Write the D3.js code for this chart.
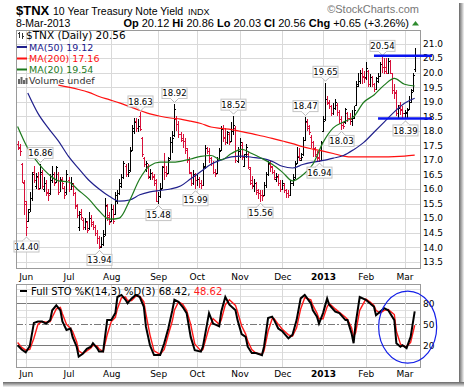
<!DOCTYPE html>
<html>
<head>
<meta charset="utf-8">
<script src="https://cdn.jsdelivr.net/npm/d3@7"></script>
<style>
  body { margin: 0; background: #fff; }
  svg { display: block; font-family: "DejaVu Sans", Verdana, sans-serif; }
</style>
</head>
<body>
<svg id="chart" width="464" height="387"></svg>
<script>
// daily bars, index 0 = 25-May-2012 ... 195 = 8-Mar-2013 (trading days)
const open = [
  17.55,17.45,16.85,16.2,15.5,14.9,15.3,15.7,16.6,16.1,
  16.4,16.05,16.5,16.0,16.2,15.9,15.85,16.3,16.5,16.25,
  16.5,15.9,16.35,16.05,15.9,16.3,16.0,16.1,15.85,15.4,
  14.7,15.2,14.95,14.7,14.85,14.65,15.0,14.85,14.7,14.5,
  14.3,14.0,14.1,14.45,15.4,15.1,14.9,15.3,15.15,15.6,
  15.85,16.1,16.4,16.8,16.5,16.65,17.35,18.0,18.35,18.1,
  18.5,17.75,17.05,16.7,16.8,16.4,16.55,16.4,16.3,15.6,
  15.75,16.05,16.8,16.6,16.55,17.05,17.6,17.85,18.4,18.25,
  17.9,17.75,17.65,17.35,17.0,16.55,16.2,16.45,16.3,16.35,
  16.2,16.15,16.8,17.4,17.3,17.05,16.9,16.6,16.55,17.0,
  17.35,18.1,17.8,17.6,17.9,17.65,18.0,18.1,16.95,17.3,
  17.5,16.8,17.2,17.2,16.7,16.3,16.1,16.2,15.95,15.85,
  15.8,15.8,16.15,16.5,16.85,16.75,16.6,16.35,16.4,16.2,
  16.0,16.15,15.95,15.85,15.8,16.2,16.4,16.9,17.15,17.0,
  17.2,17.7,18.3,18.1,17.8,17.6,17.4,17.2,17.1,17.0,
  18.0,18.4,19.1,18.95,18.85,18.6,18.8,18.9,18.65,18.4,
  18.2,18.3,18.6,18.45,18.35,18.5,18.9,19.6,19.7,20.0,
  19.9,19.85,20.05,19.6,19.85,19.6,19.45,19.7,19.9,20.3,
  20.2,20.2,20.0,20.4,20.0,19.4,19.3,18.6,18.9,18.75,
  18.6,18.6,18.75,19.0,19.4,20.12
];
const high = [
  17.65,17.55,16.9,16.3,15.6,15.3,15.9,16.6,16.8,16.55,
  16.6,16.86,16.65,16.4,16.3,16.0,16.5,16.8,16.6,16.8,
  16.6,16.4,16.4,16.1,16.65,16.4,16.4,16.2,15.9,15.5,
  15.25,15.3,15.0,15.0,14.9,15.2,15.1,14.9,14.75,14.6,
  14.4,14.35,14.6,15.7,15.5,15.2,15.5,15.45,15.9,15.95,
  16.35,16.5,16.95,16.85,16.9,17.45,18.2,18.45,18.45,18.4,
  18.63,17.8,17.1,16.95,16.85,16.7,16.6,16.5,16.35,15.9,
  16.2,16.8,17.25,16.8,17.1,17.8,18.0,18.92,18.5,18.35,
  17.95,17.9,17.75,17.4,17.1,16.6,16.65,16.55,16.5,16.4,
  16.3,16.9,17.5,17.45,17.4,17.1,16.95,16.7,17.1,17.4,
  18.15,18.2,18.1,18.0,17.95,18.3,18.52,18.15,17.45,17.75,
  17.6,17.2,17.55,17.3,16.75,16.45,16.35,16.25,16.0,15.95,
  15.95,16.25,16.6,16.95,16.95,16.8,16.65,16.55,16.5,16.3,
  16.3,16.2,16.0,15.95,16.3,16.5,16.95,17.45,17.4,17.25,
  17.8,18.47,18.4,18.2,17.85,17.65,17.45,17.3,17.3,17.65,
  18.5,19.65,19.2,19.05,18.9,18.95,19.1,18.95,18.7,18.5,
  18.3,18.8,18.65,18.6,18.7,18.85,19.7,20.0,20.1,20.15,
  20.05,20.35,20.1,19.95,19.9,19.65,19.85,20.0,20.35,20.54,
  20.5,20.5,20.5,20.45,20.0,19.6,19.4,18.9,19.0,18.85,
  18.7,18.8,19.2,19.45,20.0,20.86
];
const low = [
  17.35,17.15,16.2,15.1,14.40,14.85,15.2,15.6,16.2,16.0,
  15.95,16.0,16.0,15.9,15.75,15.6,15.8,16.2,16.1,16.2,
  15.8,15.9,16.0,15.65,15.8,15.9,15.95,15.75,15.3,15.0,
  14.55,14.95,14.6,14.6,14.5,14.6,14.7,14.6,14.4,14.1,
  13.94,13.96,14.05,14.4,14.9,14.75,14.85,14.8,15.1,15.5,
  15.8,16.05,16.35,16.4,16.4,16.6,17.3,17.9,17.95,17.95,
  18.0,17.1,16.75,16.6,16.35,16.3,16.3,16.1,15.55,15.48,
  15.7,16.0,16.3,16.4,16.5,17.0,17.25,17.8,18.0,17.75,
  17.6,17.4,17.2,16.9,16.5,16.1,16.15,15.99,16.1,16.05,
  16.0,16.1,16.7,17.2,16.9,16.8,16.5,16.4,16.5,16.95,
  17.3,17.6,17.5,17.55,17.5,17.6,17.85,16.9,16.9,17.05,
  17.0,16.75,17.05,16.7,16.15,16.0,15.9,15.8,15.65,15.56,
  15.6,15.75,16.05,16.45,16.6,16.5,16.3,16.25,16.1,15.9,
  15.95,15.85,15.7,15.68,15.75,16.1,16.35,16.85,16.95,16.95,
  17.15,17.65,18.0,17.85,17.4,17.1,17.1,16.95,16.94,16.95,
  17.95,18.35,18.9,18.75,18.5,18.55,18.7,18.5,18.25,18.03,
  18.05,18.25,18.3,18.2,18.15,18.4,18.85,19.5,19.6,19.6,
  19.65,19.75,19.5,19.5,19.5,19.35,19.4,19.65,19.85,20.0,
  19.95,19.95,19.95,19.95,19.25,19.1,18.5,18.45,18.55,18.45,
  18.39,18.45,18.7,18.95,19.35,20.03
];
const close = [
  17.4,17.3,16.25,15.6,14.7,15.2,15.7,16.5,16.3,16.45,
  16.0,16.6,16.1,16.2,15.85,15.8,16.3,16.5,16.2,16.75,
  15.9,16.3,16.2,15.8,16.5,16.0,16.2,15.85,15.45,15.1,
  15.15,15.05,14.7,14.9,14.6,15.0,14.8,14.7,14.5,14.3,
  14.05,14.1,14.4,15.45,15.05,14.85,15.3,14.9,15.8,15.85,
  16.2,16.4,16.9,16.5,16.6,17.3,18.1,18.3,18.1,18.15,
  18.05,17.2,16.85,16.9,16.45,16.55,16.45,16.2,15.6,15.75,
  16.0,16.75,16.6,16.5,17.0,17.6,17.75,18.75,18.25,17.9,
  17.7,17.65,17.4,17.0,16.6,16.2,16.5,16.3,16.35,16.2,
  16.15,16.75,17.4,17.3,17.05,16.9,16.6,16.5,17.0,17.3,
  18.05,17.75,17.6,17.95,17.6,18.0,18.2,17.0,17.3,17.6,
  17.1,17.15,17.45,16.75,16.2,16.15,16.2,15.9,15.85,15.8,
  15.75,16.15,16.5,16.9,16.8,16.6,16.4,16.45,16.2,16.0,
  16.2,15.95,15.85,15.8,16.2,16.35,16.85,17.1,17.05,17.1,
  17.7,18.35,18.15,17.95,17.6,17.4,17.2,17.05,17.0,17.6,
  18.35,19.1,19.0,18.85,18.6,18.8,19.0,18.65,18.4,18.2,
  18.15,18.75,18.45,18.4,18.45,18.7,19.55,19.7,20.0,19.85,
  19.8,20.15,19.6,19.85,19.6,19.45,19.8,19.9,20.3,20.2,
  20.05,20.0,20.4,20.0,19.4,19.35,18.6,18.8,18.7,18.6,
  18.65,18.7,19.0,19.35,19.91,20.56
];

// moving averages read every 5 trading days
const maDays = [0,5,10,15,20,25,30,35,40,45,50,55,60,65,70,75,80,85,90,95,
  100,105,110,115,120,125,130,135,140,145,150,155,160,165,170,175,180,185,190,195];
const ma20 = [18.15,17.4,16.9,16.52,16.28,16.24,15.95,15.65,15.25,14.96,
  15.0,15.6,16.35,16.8,16.92,16.92,16.95,17.03,17.12,17.15,
  17.0,17.22,17.36,17.22,17.05,16.85,16.58,16.28,16.48,16.85,
  17.6,18.1,18.3,18.48,18.98,19.23,19.57,19.8,19.6,19.54];
const ma50 = [null,19.3,18.6,18.1,17.65,17.12,16.7,16.3,16.0,15.75,
  15.58,15.62,15.8,15.9,15.95,16.0,16.1,16.35,16.6,16.85,
  17.0,17.1,17.13,17.09,17.05,16.95,16.78,16.72,16.84,16.92,
  16.98,17.06,17.15,17.35,17.6,17.95,18.3,18.65,18.95,19.12];
const ma200 = [null,null,null,null,19.57,19.5,19.42,19.32,19.18,19.07,
  18.96,18.83,18.7,18.58,18.5,18.44,18.4,18.33,18.25,18.13,
  18.08,18.04,17.97,17.9,17.82,17.74,17.65,17.56,17.45,17.37,
  17.3,17.22,17.13,17.1,17.1,17.1,17.1,17.11,17.13,17.16];

// full stochastics
const stoDays = [0,2,4,6,8,10,12,14,16,17,19,21,22,24,26,27,29,30,32,34,36,37,39,40,42,44,46,48,49,51,
  53,54,56,58,60,62,63,65,67,70,72,74,76,77,79,81,83,85,87,90,91,94,96,99,100,102,104,107,108,110,
  112,113,115,117,120,121,123,125,126,128,130,133,135,137,139,141,144,145,147,148,150,152,153,156,158,161,162,164,165,166,
  168,171,173,175,176,178,180,182,185,186,188,189,191,193,195];
const pctK = [20,14,10,19,52,54,54,51,56,70,77,70,54,42,44,32,18,4,8,15,18,23,16,11,11,56,56,66,89,92,
  85,80,87,92,89,75,47,20,6,6,23,44,70,85,82,75,66,32,13,11,18,66,51,47,68,89,78,70,56,36,
  32,18,9,9,6,18,59,61,56,44,40,30,35,56,87,92,80,70,61,51,66,87,78,68,66,56,56,37,23,51,
  89,85,80,75,63,68,73,70,56,23,18,20,16,32,68.42];
const pctD = [24,17,13,14,30,50,54,53,54,60,72,74,65,50,44,40,25,12,8,12,16,20,19,15,11,35,54,60,72,88,
  89,84,84,90,90,82,65,35,12,7,14,35,55,70,82,79,70,50,22,12,14,45,58,50,56,78,85,77,68,48,
  36,26,14,9,7,12,40,58,58,50,43,35,33,45,72,88,85,77,66,58,58,75,80,72,67,60,57,45,33,38,
  70,86,82,77,70,66,70,71,64,40,22,19,18,24,48.62];

const monthTicks = [4,25,46,69,88,109,130,150,171,190];
const monthLabels = ['Jun','Jul','Aug','Sep','Oct','Nov','Dec','2013','Feb','Mar'];
const priceTicks = [13.5,14.0,14.5,15.0,15.5,16.0,16.5,17.0,17.5,18.0,18.5,19.0,19.5,20.0,20.5,21.0];
const stoTicks = [20,50,80];

// value callouts: bar index and whether it marks the high or the low
const calloutDays = [4,11,40,60,69,77,87,106,119,141,148,151,159,179,190];
const calloutKind = ['L','H','L','H','L','H','L','H','L','H','L','H','L','H','L'];

// hand drawn annotations
const resistance = 20.58, resistanceDays = [175, 203.5];
const support = 18.42, supportDays = [177, 203.5];
const circleDays = [177.3, 205.8], circleVals = [-5.5, 97.5];

const svg = d3.select('#chart');
const pL = 16, pR = 420, pT = 30, pB = 268;
const sT = 284, sB = 367;
const red = '#d8103a';

const x = d3.scaleLinear().domain([0, 195]).range([17.6, 414.7]);
const y = d3.scaleLinear().domain([13.5, 21]).range([261.7, 43.5]);
const ys = d3.scaleLinear().domain([0, 100]).range([359.3, 289.3]);

svg.append('rect').attr('width', 464).attr('height', 387).attr('fill', '#fff');

// drop shadow round the picture
const defs = svg.append('defs');
const gv = defs.append('linearGradient').attr('id', 'shR');
gv.append('stop').attr('offset', '0').attr('stop-color', '#666');
gv.append('stop').attr('offset', '1').attr('stop-color', '#f4f4f4');
const gh = defs.append('linearGradient').attr('id', 'shB').attr('x1', 0).attr('x2', 0).attr('y1', 0).attr('y2', 1);
gh.append('stop').attr('offset', '0').attr('stop-color', '#666');
gh.append('stop').attr('offset', '1').attr('stop-color', '#f4f4f4');
svg.append('rect').attr('x', 459).attr('y', 3).attr('width', 5).attr('height', 384).attr('fill', 'url(#shR)');
svg.append('rect').attr('x', 3).attr('y', 382).attr('width', 461).attr('height', 5).attr('fill', 'url(#shB)');

// header
const head = svg.append('g').style('font-family', '"Liberation Sans", Arial, sans-serif');
head.append('text').attr('x', 16).attr('y', 15).attr('font-size', 13).attr('font-weight', 'bold').text('$TNX');
head.append('text').attr('x', 53).attr('y', 15).attr('font-size', 10.5).text('10 Year Treasury Note Yield');
head.append('text').attr('x', 188).attr('y', 15).attr('font-size', 9).text('INDX');
head.append('text').attr('x', 419).attr('y', 13).attr('font-size', 11).attr('fill', '#777')
  .attr('text-anchor', 'end').text('\u00A9StockCharts.com');
head.append('text').attr('x', 16).attr('y', 27).attr('font-size', 10.5).text('8-Mar-2013');

const last = close.length - 1;
const chg = close[last] - close[last - 1];
const quote = head.append('text').attr('x', 409).attr('y', 27).attr('font-size', 11).attr('text-anchor', 'end');
[['Op', open[last]], ['Hi', high[last]], ['Lo', low[last]], ['Cl', close[last]]].forEach(function (p, i) {
  quote.append('tspan').attr('font-weight', 'bold').text((i ? ' ' : '') + p[0] + ' ');
  quote.append('tspan').text(p[1].toFixed(2));
});
quote.append('tspan').attr('font-weight', 'bold').text(' Chg ');
quote.append('tspan').text('+' + chg.toFixed(2) + ' (+' + (chg / close[last - 1] * 100).toFixed(2) + '%)');
svg.append('path').attr('d', 'M412,25.5 L415.5,21 L419,25.5 Z').attr('fill', '#2e8b2e');

// main panel grid
const grid = svg.append('g').attr('stroke', '#d9d9d9').attr('stroke-width', 1).attr('shape-rendering', 'crispEdges');
grid.selectAll('.h').data(priceTicks).enter().append('line')
  .attr('x1', pL).attr('x2', pR)
  .attr('y1', d => Math.round(y(d)) + 0.5).attr('y2', d => Math.round(y(d)) + 0.5);
grid.selectAll('.v').data(monthTicks).enter().append('line')
  .attr('x1', d => Math.round(x(d)) + 0.5).attr('x2', d => Math.round(x(d)) + 0.5)
  .attr('y1', pT).attr('y2', pB);

// price bars
const bars = svg.append('g').attr('shape-rendering', 'crispEdges');
const idx = d3.range(close.length);
const barColor = i => (i === 0 ? close[i] < open[i] : close[i] < close[i - 1]) ? red : '#000';
const bx = i => Math.round(x(i));
bars.selectAll('.bar').data(idx).enter().append('rect')
  .attr('x', bx).attr('width', 1)
  .attr('y', i => y(high[i])).attr('height', i => Math.max(1, y(low[i]) - y(high[i])))
  .attr('fill', barColor);
bars.selectAll('.op').data(idx).enter().append('rect')
  .attr('x', i => bx(i) - 1).attr('width', 1)
  .attr('y', i => Math.round(y(open[i]))).attr('height', 1)
  .attr('fill', barColor);
bars.selectAll('.cl').data(idx).enter().append('rect')
  .attr('x', i => bx(i) + 1).attr('width', 1)
  .attr('y', i => Math.round(y(close[i]))).attr('height', 1)
  .attr('fill', barColor);

// moving averages
const maLine = d3.line()
  .defined(d => d[1] != null)
  .x(d => x(d[0])).y(d => y(d[1]))
  .curve(d3.curveMonotoneX);
[[ma200, '#ff1010'], [ma50, '#20208c'], [ma20, '#1d7a1d']].forEach(function (m) {
  svg.append('path').datum(maDays.map((d, i) => [d, m[0][i]]))
    .attr('d', maLine).attr('fill', 'none').attr('stroke', m[1]).attr('stroke-width', 1.2);
});

// high / low callouts
const call = svg.append('g').attr('font-size', 8.5).attr('text-anchor', 'middle');
calloutDays.forEach(function (d, k) {
  const isHigh = calloutKind[k] === 'H';
  const v = isHigh ? high[d] : low[d];
  const cx = Math.round(x(d)) + 0.5;
  const tip = isHigh ? y(v) - 1.5 : y(v) + 1.5;
  const edge = isHigh ? tip - 4 : tip + 4;
  const top = isHigh ? edge - 11 : edge;
  const w = 25;
  call.append('path')
    .attr('d', `M${cx - 4},${edge} L${cx},${tip} L${cx + 4},${edge}`)
    .attr('fill', '#fff').attr('stroke', '#b8b8b8');
  call.append('rect').attr('x', cx - w / 2).attr('y', top).attr('width', w).attr('height', 11)
    .attr('fill', '#fff').attr('stroke', '#c4c4c4');
  call.append('path')
    .attr('d', `M${cx - 3.5},${edge} L${cx + 3.5},${edge}`)
    .attr('stroke', '#fff').attr('stroke-width', 1.2);
  call.append('text').attr('x', cx).attr('y', top + 8.6).text(v.toFixed(2));
});

// legend
const leg = svg.append('g').attr('font-size', 9.5);
const icon = leg.append('g').attr('stroke', '#333').attr('shape-rendering', 'crispEdges');
icon.append('line').attr('x1', 19.5).attr('x2', 19.5).attr('y1', 32).attr('y2', 38);
icon.append('line').attr('x1', 22.5).attr('x2', 22.5).attr('y1', 33).attr('y2', 39);
icon.append('line').attr('x1', 18).attr('x2', 19.5).attr('y1', 33.5).attr('y2', 33.5);
icon.append('line').attr('x1', 22.5).attr('x2', 24).attr('y1', 36.5).attr('y2', 36.5);
leg.append('text').attr('x', 26).attr('y', 39).attr('font-size', 10.5).text('$TNX (Daily) ' + close[last].toFixed(2));
[[ 'MA(50) ', ma50, '#20208c', 50.5], ['MA(200) ', ma200, '#ff1010', 62], ['MA(20) ', ma20, '#1d7a1d', 73]].forEach(function (m) {
  leg.append('line').attr('x1', 17).attr('x2', 27).attr('y1', m[3] - 3.5).attr('y2', m[3] - 3.5)
    .attr('stroke', m[2]).attr('stroke-width', 2);
  leg.append('text').attr('x', 29).attr('y', m[3]).attr('fill', m[2])
    .text(m[0] + m[1][m[1].length - 1].toFixed(2));
});
const vol = leg.append('g').attr('fill', '#666');
[[18, 79, 5], [20.5, 77, 7], [23, 80, 4], [25.5, 78, 6]].forEach(function (b) {
  vol.append('rect').attr('x', b[0]).attr('y', b[1]).attr('width', 2).attr('height', b[2]);
});
leg.append('text').attr('x', 29).attr('y', 84).attr('fill', '#333').text('Volume undef');

// main panel frame and axes
svg.append('rect').attr('x', pL + 0.5).attr('y', pT + 0.5).attr('width', pR - pL).attr('height', pB - pT)
  .attr('fill', 'none').attr('stroke', '#9a9a9a');

const yAxis = svg.append('g').attr('transform', `translate(${pR},0)`)
  .call(d3.axisRight(y).tickValues(priceTicks).tickFormat(d3.format('.1f')).tickSize(0).tickPadding(3));
yAxis.select('.domain').remove();
yAxis.selectAll('text').attr('font-size', 9).attr('font-family', '"DejaVu Sans", Verdana, sans-serif').attr('fill', '#000');

function monthAxis(yPos, pad) {
  const g = svg.append('g').attr('transform', `translate(0,${yPos})`)
    .call(d3.axisBottom(x).tickValues(monthTicks).tickFormat((d, i) => monthLabels[i]).tickSize(0).tickPadding(pad));
  g.select('.domain').remove();
  g.selectAll('text').attr('font-size', 9).attr('font-family', '"DejaVu Sans", Verdana, sans-serif').attr('fill', '#000')
    .attr('font-weight', d => monthLabels[monthTicks.indexOf(d)] === '2013' ? 'bold' : 'normal');
}
monthAxis(pB, 6);

// hand drawn support / resistance lines
svg.append('line').attr('x1', x(resistanceDays[0])).attr('x2', x(resistanceDays[1]))
  .attr('y1', y(resistance)).attr('y2', y(resistance)).attr('stroke', '#0a14f0').attr('stroke-width', 2.6);
svg.append('line').attr('x1', x(supportDays[0])).attr('x2', x(supportDays[1]))
  .attr('y1', y(support)).attr('y2', y(support)).attr('stroke', '#0a14f0').attr('stroke-width', 2.6);

// stochastics panel
const sgrid = svg.append('g').attr('shape-rendering', 'crispEdges');
sgrid.selectAll('.h').data(d3.range(0, 101, 10)).enter().append('line')
  .attr('x1', pL).attr('x2', pR)
  .attr('y1', d => Math.round(ys(d)) + 0.5).attr('y2', d => Math.round(ys(d)) + 0.5)
  .attr('stroke', d => (d === 20 || d === 80 || d === 50) ? '#7a7a7a' : '#e0e0e0')
  .attr('stroke-dasharray', d => d === 50 ? '7,2,2,2' : null);
sgrid.selectAll('.v').data(monthTicks).enter().append('line')
  .attr('x1', d => Math.round(x(d)) + 0.5).attr('x2', d => Math.round(x(d)) + 0.5)
  .attr('y1', sT).attr('y2', sB).attr('stroke', '#d9d9d9');

const stoLine = d3.line().x(d => x(d[0])).y(d => ys(d[1]));
svg.append('path').datum(stoDays.map((d, i) => [d, pctD[i]]))
  .attr('d', stoLine).attr('fill', 'none').attr('stroke', '#ff1a1a').attr('stroke-width', 1.4);
svg.append('path').datum(stoDays.map((d, i) => [d, pctK[i]]))
  .attr('d', stoLine).attr('fill', 'none').attr('stroke', '#000').attr('stroke-width', 2);

const sleg = svg.append('text').attr('x', 31).attr('y', 294.5).attr('font-size', 10);
sleg.append('tspan').text('Full STO %K(14,3) %D(3) ' + pctK[pctK.length - 1].toFixed(2) + ', ');
sleg.append('tspan').attr('fill', '#ff1a1a').text(pctD[pctD.length - 1].toFixed(2));
svg.append('line').attr('x1', 20).attr('x2', 27).attr('y1', 291).attr('y2', 291).attr('stroke', '#000').attr('stroke-width', 2);

svg.append('rect').attr('x', pL + 0.5).attr('y', sT + 0.5).attr('width', pR - pL).attr('height', sB - sT)
  .attr('fill', 'none').attr('stroke', '#9a9a9a');

const sAxis = svg.append('g').attr('transform', `translate(${pR},0)`)
  .call(d3.axisRight(ys).tickValues(stoTicks).tickSize(0).tickPadding(3));
sAxis.select('.domain').remove();
sAxis.selectAll('text').attr('font-size', 9).attr('font-family', '"DejaVu Sans", Verdana, sans-serif').attr('fill', '#000');
monthAxis(sB, 4);

// circle round the latest stochastic turn
svg.append('ellipse')
  .attr('cx', (x(circleDays[0]) + x(circleDays[1])) / 2)
  .attr('cy', (ys(circleVals[0]) + ys(circleVals[1])) / 2)
  .attr('rx', (x(circleDays[1]) - x(circleDays[0])) / 2)
  .attr('ry', (ys(circleVals[0]) - ys(circleVals[1])) / 2)
  .attr('fill', 'none').attr('stroke', '#1420e8').attr('stroke-width', 1.2);
</script>
</body>
</html>
